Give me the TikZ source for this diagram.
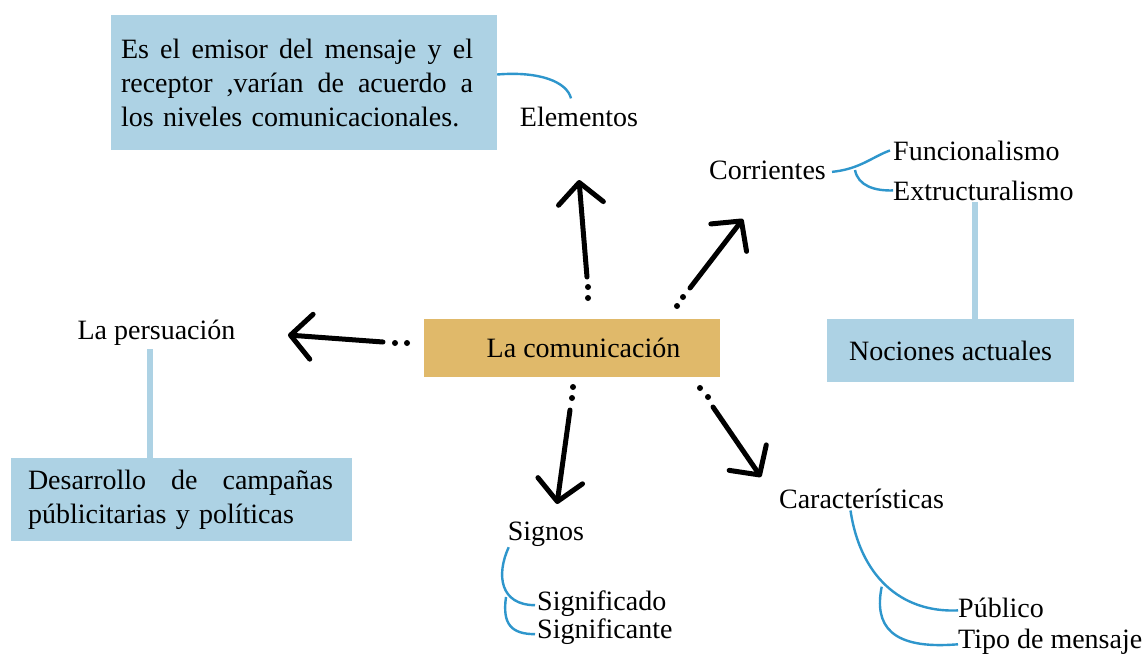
\documentclass[tikz,border=0pt]{standalone}
\usepackage{fontspec}
\setmainfont{Liberation Serif}
\usetikzlibrary{arrows.meta,calc}
\definecolor{boxblue}{RGB}{173,210,228}
\definecolor{gold}{RGB}{224,185,106}
\definecolor{curveblue}{RGB}{46,150,204}
\begin{document}
\begin{tikzpicture}[x=1pt,y=1pt,
  bigfont/.style={font=\fontsize{28}{34}\selectfont},
  txt/.style={bigfont, inner sep=0pt, anchor=base},
  txtw/.style={bigfont, inner sep=0pt, anchor=base west},
  bbox/.style={bigfont, fill=boxblue, inner ysep=0pt, align=left},
  arr/.style={line width=5pt, line cap=round, line join=round,
    -{Straight Barb[round,length=21pt,width=45pt]}},
  bl/.style={curveblue, line width=2.4pt},
  lb/.style={boxblue, line width=6pt}]
\useasboundingbox (0,0) rectangle (1145,-657);
\fill[white] (0,0) rectangle (1145,-657);

% boxes
\node[bbox, text width=366pt, inner xsep=10pt, minimum height=135pt] (ebox) at (304,-82.5)
  {\makebox[352pt][l]{Es\hfill el\hfill emisor\hfill del\hfill mensaje\hfill y\hfill el}\\
   \makebox[352pt][l]{receptor\hfill ,varían\hfill de\hfill acuerdo\hfill a}\\
   los niveles comunicacionales.};
\node[bbox, text width=307pt, inner xsep=17pt, minimum height=83pt] (des) at (181.5,-499.5)
  {\makebox[305pt][l]{Desarrollo\hfill de\hfill campañas}\\
   públicitarias y políticas};
\node[bigfont, fill=boxblue, minimum width=247pt, minimum height=63pt, inner sep=0pt] (noc) at (950.5,-350.5) {Nociones actuales};
\node[bigfont, fill=gold, minimum width=296pt, minimum height=58pt, inner sep=0pt] (com) at (572,-348) {\hspace*{23pt}La comunicación};

% text nodes
\node[txt] (elem) at (579,-126) {Elementos};
\node[txt] (corr) at (767.5,-179) {Corrientes};
\node[txtw] (func) at (893,-160) {Funcionalismo};
\node[txtw] (extr) at (893,-200) {Extructuralismo};
\node[txt] (pers) at (156.5,-339) {La persuación};
\node[txt] (signos) at (546,-540) {Signos};
\node[txtw] (sdo) at (537,-610) {Significado};
\node[txtw] (ste) at (537,-638) {Significante};
\node[txt] (car) at (861.5,-508) {Características};
\node[txtw] (pub) at (958,-617) {Público};
\node[txtw] (tipo) at (958,-648) {Tipo de mensaje};

% light blue links
\draw[lb] ([xshift=-8.5pt,yshift=-2pt]extr.south) -- ([xshift=-8.5pt]extr.south |- noc.north);
\draw[lb] ([xshift=-6.5pt,yshift=-4pt]pers.south) -- ([xshift=-6.5pt]pers.south |- des.north);

% blue curves
\draw[bl] ([shift={(-8pt,8pt)}]elem.north) .. controls (567,-82) and (540,-71) .. ([yshift=8pt]ebox.east);
\coordinate (cbr) at (855,-170);
\draw[bl] ([xshift=6pt,yshift=-2pt]corr.east) .. controls (860,-169) and (872,-157) .. ([xshift=-3pt]func.west);
\draw[bl] (cbr) .. controls (858,-186) and (875,-191) .. (extr.west);
\coordinate (sbr) at (506,-597);
\draw[bl] ([shift={(1pt,-1pt)}]signos.south west) .. controls (496,-575) and (500,-605) .. ([shift={(-2pt,-2pt)}]sdo.west);
\draw[bl] (sbr) .. controls (502,-625) and (512,-634) .. ([shift={(-2pt,-3pt)}]ste.west);
\coordinate (kbr) at (881.7,-586.7);
\draw[bl] ([shift={(-11pt,-2pt)}]car.south) .. controls (860,-575) and (900,-613) .. ([yshift=-3pt]pub.west);
\draw[bl] (kbr) .. controls (874,-625) and (890,-650) .. ([yshift=-3pt]tipo.west);

% black arrows with dots
\coordinate (a1s) at (587,-277); \coordinate (a1t) at (579,-180);
\coordinate (a2s) at (690,-288); \coordinate (a2t) at (743,-219);
\coordinate (a3s) at (383,-342); \coordinate (a3t) at (288,-335);
\coordinate (a4s) at (570,-410); \coordinate (a4t) at (557,-504);
\coordinate (a5s) at (713,-407); \coordinate (a5t) at (761,-477);
\draw[arr] (a1s) -- (a1t);
\draw[arr] (a2s) -- (a2t);
\draw[arr] (a3s) -- (a3t);
\draw[arr] (a4s) -- (a4t);
\draw[arr] (a5s) -- (a5t);
\foreach \p in {(588,-287),(588,-298),(683,-297),(677,-306),(395,-343),(407,-343),
  (573,-387),(572,-398),(700,-388),(708,-397)}
  \fill \p circle (3pt);
\end{tikzpicture}
\end{document}
